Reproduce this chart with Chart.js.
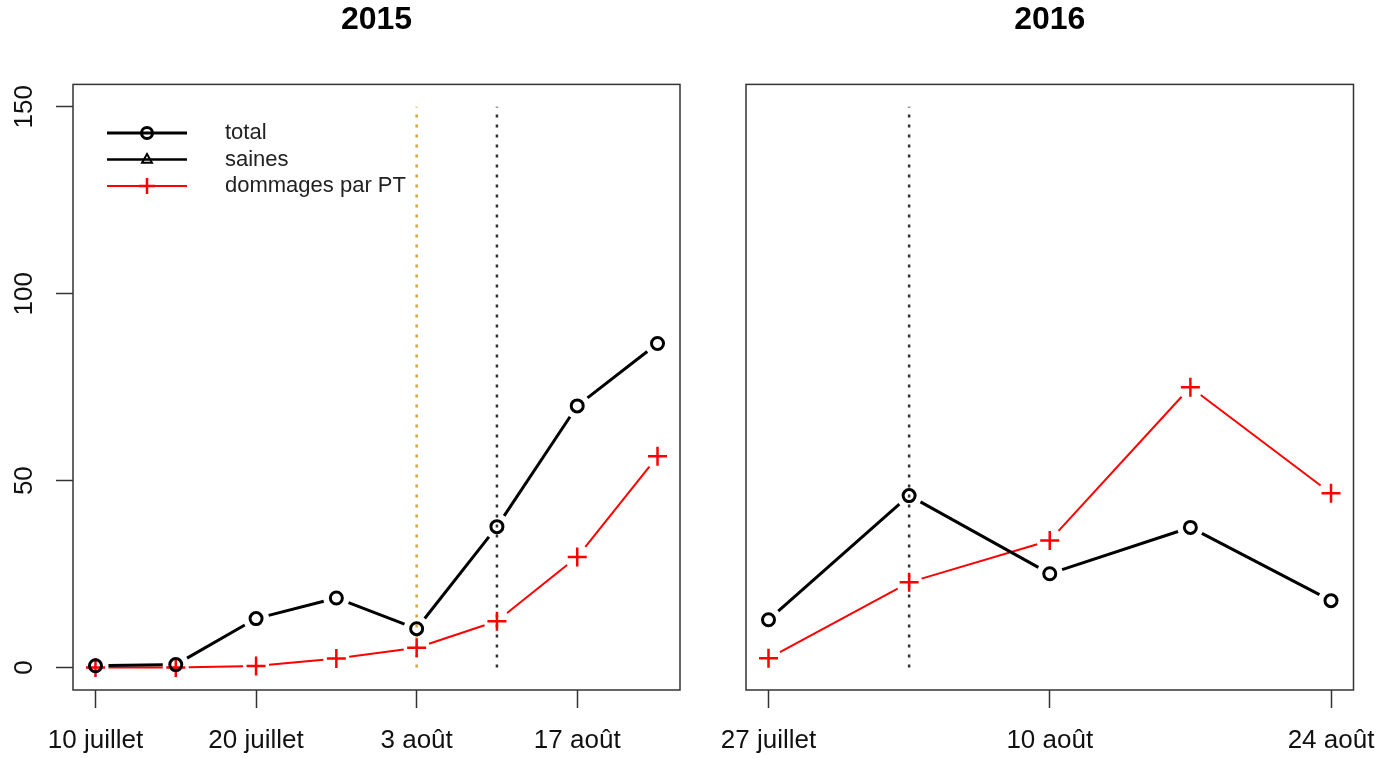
<!DOCTYPE html>
<html>
<head>
<meta charset="utf-8">
<script src="https://cdn.jsdelivr.net/npm/chart.js@4"></script>
<style>
  body { margin: 0; background: #fff; }
  canvas { position: absolute; top: 0; }
  #c2015 { left: 0; }
  #c2016 { left: 700px; }
</style>
</head>
<body>
<canvas id="c2015" width="700" height="758"></canvas>
<canvas id="c2016" width="693" height="758"></canvas>
<script>
const FONT = '"Liberation Sans", Arial, Helvetica, sans-serif';

// 2015 data (one value per sampling date, index 1..8)
const total2015 = [0.5, 0.8, 13.1, 18.6, 10.4, 37.7, 70, 86.7];
const saines2015 = [];
const pt2015 = [0, 0, 0.4, 2.4, 5.3, 12.4, 29.6, 56.5];
const tickPos2015 = [1, 3, 5, 7];
const tickLabels2015 = ['10 juillet', '20 juillet', '3 août', '17 août'];
const orangeLine2015 = 5;
const blackLine2015 = 6;

// 2016 data (index 1..5)
const total2016 = [12.8, 46, 25.1, 37.5, 17.9];
const saines2016 = [];
const pt2016 = [2.5, 22.8, 34, 75, 46.6];
const tickPos2016 = [1, 3, 5];
const tickLabels2016 = ['27 juillet', '10 août', '24 août'];
const blackLine2016 = 2;

const yTicks = [0, 50, 100, 150];
const legendLabels = ['total', 'saines', 'dommages par PT'];

const toXY = arr => arr.map((v, i) => ({ x: i + 1, y: v }));
const vline = x => [{ x: x, y: 0 }, { x: x, y: 150 }];

// R type="b": leave a gap around each point
const GAP = 13;
const gapDash = ctx => {
  const len = Math.hypot(ctx.p1.x - ctx.p0.x, ctx.p1.y - ctx.p0.y);
  if (len <= 2 * GAP) return [0, len];
  return [0, GAP, len - 2 * GAP, GAP];
};

function seriesSets(total, saines, pt) {
  const none = 'rgba(0,0,0,0)';
  return [
    { label: legendLabels[0], data: toXY(total), borderColor: '#000', borderWidth: 3,
      pointStyle: 'circle', pointRadius: 6, pointBorderWidth: 3,
      pointBackgroundColor: none, pointBorderColor: '#000', order: 0,
      segment: { borderDash: gapDash } },
    { label: legendLabels[1], data: toXY(saines), borderColor: '#000', borderWidth: 2.5,
      pointStyle: 'triangle', pointRadius: 6, pointBorderWidth: 2,
      pointBackgroundColor: none, pointBorderColor: '#000', order: 1,
      segment: { borderDash: gapDash } },
    { label: legendLabels[2], data: toXY(pt), borderColor: '#ff0000', borderWidth: 2,
      pointStyle: 'cross', pointRadius: 9.5, pointBorderWidth: 2.5,
      pointBorderColor: '#ff0000', order: 2,
      segment: { borderDash: gapDash } }
  ];
}

function markerSet(x, color) {
  return { label: '', data: vline(x), borderColor: color, borderWidth: 2.5,
    borderDash: [3, 7], pointRadius: 0, order: 5, noLegend: true };
}

// box around the plot area, like R's box()
const boxPlugin = {
  id: 'box',
  afterDraw(chart) {
    const a = chart.chartArea, ctx = chart.ctx;
    ctx.save();
    ctx.strokeStyle = '#333';
    ctx.lineWidth = 1.5;
    ctx.strokeRect(a.left, a.top, a.right - a.left, a.bottom - a.top);
    ctx.restore();
  }
};

// vertical y tick labels (R las=0)
const yLabelPlugin = {
  id: 'yLabels',
  afterDraw(chart, args, opts) {
    if (!opts.show) return;
    const ctx = chart.ctx, y = chart.scales.y;
    ctx.save();
    ctx.font = '26px ' + FONT;
    ctx.fillStyle = '#111';
    ctx.textAlign = 'center';
    ctx.textBaseline = 'middle';
    yTicks.forEach(v => {
      ctx.save();
      ctx.translate(25, y.getPixelForValue(v));
      ctx.rotate(-Math.PI / 2);
      ctx.fillText(String(v), 0, 0);
      ctx.restore();
    });
    ctx.restore();
  }
};

function drawMarker(ctx, style, x, y, r) {
  ctx.beginPath();
  if (style === 'circle') {
    ctx.arc(x, y, r, 0, Math.PI * 2);
    ctx.stroke();
  } else if (style === 'triangle') {
    ctx.moveTo(x, y - r);
    ctx.lineTo(x + r * 0.9, y + r * 0.6);
    ctx.lineTo(x - r * 0.9, y + r * 0.6);
    ctx.closePath();
    ctx.stroke();
  } else {
    ctx.moveTo(x - r, y); ctx.lineTo(x + r, y);
    ctx.moveTo(x, y - r); ctx.lineTo(x, y + r);
    ctx.stroke();
  }
}

// legend drawn inside the plot, R style (line + symbol)
const legendPlugin = {
  id: 'rLegend',
  afterDraw(chart, args, opts) {
    if (!opts.show) return;
    const ctx = chart.ctx;
    const sets = chart.data.datasets.filter(d => !d.noLegend);
    ctx.save();
    sets.forEach((d, i) => {
      const yy = opts.y + i * opts.step;
      ctx.strokeStyle = d.borderColor;
      ctx.lineWidth = d.borderWidth;
      ctx.beginPath();
      ctx.moveTo(opts.x0, yy);
      ctx.lineTo(opts.x1, yy);
      ctx.stroke();
      ctx.lineWidth = d.pointBorderWidth;
      const r = d.pointStyle === 'cross' ? 8 : 5.5;
      drawMarker(ctx, d.pointStyle, (opts.x0 + opts.x1) / 2, yy, r);
      ctx.fillStyle = '#222';
      ctx.font = '22px ' + FONT;
      ctx.textAlign = 'left';
      ctx.textBaseline = 'middle';
      ctx.fillText(d.label, opts.tx, yy);
    });
    ctx.restore();
  }
};

function makeChart(id, cfg) {
  return new Chart(document.getElementById(id), {
    type: 'line',
    data: { datasets: cfg.datasets },
    options: {
      responsive: false,
      animation: false,
      layout: { padding: cfg.padding },
      plugins: {
        legend: { display: false },
        tooltip: { enabled: false },
        title: {
          display: true, text: cfg.title, fullSize: false, color: '#000',
          font: { family: FONT, size: 32, weight: 'bold' },
          padding: { top: 1, bottom: 45 }
        },
        yLabels: { show: cfg.showY },
        rLegend: cfg.legend
      },
      scales: {
        x: {
          type: 'linear', min: cfg.xmin, max: cfg.xmax,
          border: { display: false },
          grid: { drawOnChartArea: false, drawTicks: true, tickLength: 18,
                  tickColor: '#333', tickWidth: 1.5 },
          afterBuildTicks: s => { s.ticks = cfg.tickPos.map(v => ({ value: v })); },
          afterFit: s => { s.height = 68; },
          ticks: {
            padding: 17, color: '#111', maxRotation: 0, autoSkip: false,
            font: { family: FONT, size: 26 },
            callback: v => cfg.tickLabels[cfg.tickPos.indexOf(v)]
          }
        },
        y: {
          type: 'linear', min: -6, max: 156, display: cfg.showY,
          border: { display: false },
          grid: { drawOnChartArea: false, drawTicks: true, tickLength: 17,
                  tickColor: '#333', tickWidth: 1.5 },
          afterBuildTicks: s => { s.ticks = yTicks.map(v => ({ value: v })); },
          afterFit: s => { s.width = cfg.showY ? 73 : 0; },
          ticks: { display: false }
        }
      }
    },
    plugins: [boxPlugin, yLabelPlugin, legendPlugin]
  });
}

makeChart('c2015', {
  title: '2015',
  datasets: [
    ...seriesSets(total2015, saines2015, pt2015),
    markerSet(orangeLine2015, '#d9a23a'),
    markerSet(blackLine2015, '#333')
  ],
  padding: { left: 0, right: 20, top: 0, bottom: 0 },
  xmin: 0.72, xmax: 8.28,
  tickPos: tickPos2015, tickLabels: tickLabels2015,
  showY: true,
  legend: { show: true, x0: 107, x1: 187, tx: 225, y: 133, step: 26.5 }
});

makeChart('c2016', {
  title: '2016',
  datasets: [
    ...seriesSets(total2016, saines2016, pt2016),
    markerSet(blackLine2016, '#333')
  ],
  padding: { left: 46, right: 39.5, top: 0, bottom: 0 },
  xmin: 0.84, xmax: 5.16,
  tickPos: tickPos2016, tickLabels: tickLabels2016,
  showY: false,
  legend: { show: false }
});
</script>
</body>
</html>
